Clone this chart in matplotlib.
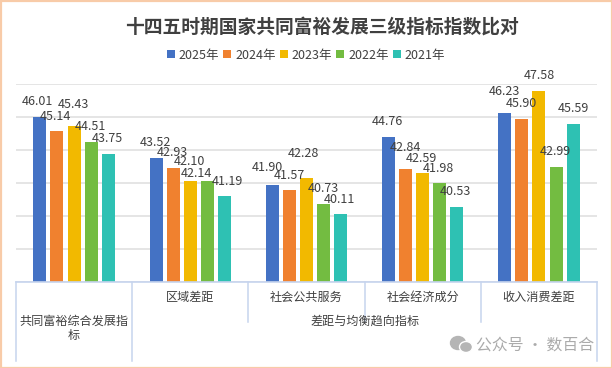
import matplotlib
matplotlib.use("Agg")
import matplotlib.pyplot as plt
from matplotlib.patches import Ellipse, Rectangle
from matplotlib.transforms import IdentityTransform

plt.rcParams['font.family'] = ['Noto Sans CJK SC', 'DejaVu Sans']

title = "十四五时期国家共同富裕发展三级指标指数比对"
categories = ["共同富裕综合发展指标", "区域差距", "社会公共服务", "社会经济成分", "收入消费差距"]
parent_label = "差距与均衡趋向指标"
years = ["2025年", "2024年", "2023年", "2022年", "2021年"]
v2025 = [46.01, 43.52, 41.90, 44.76, 46.23]
v2024 = [45.14, 42.93, 41.57, 42.84, 45.90]
v2023 = [45.43, 42.10, 42.28, 42.59, 47.58]
v2022 = [44.51, 42.14, 40.73, 41.98, 42.99]
v2021 = [43.75, 41.19, 40.11, 40.53, 45.59]
series = [v2025, v2024, v2023, v2022, v2021]
colors = ["#4472C4", "#F0812F", "#F2B900", "#73BC41", "#2EC1B3"]

# label offsets from the bar top, in pixels (per series, per category)
dx = [[-2, -1, -5, -1, 0], [-2, -1, 0, 0, 0], [-1, -1, -3, -1, 0], [-1, -11, 0, -1, -1], [-1, 3, -1, -1, 0]]
dy = [[15, 15, 17, 15.5, 22], [15, 15, 15, 22, 15], [22, 20, 25, 15, 15], [15, 7, 15, 15, 15], [16, 15, 15, 16, 15]]

W, H = 612, 368
fig = plt.figure(figsize=(W / 100, H / 100), dpi=100, facecolor="white")
L, R, T, B = 16, 597, 84, 282
ax = fig.add_axes([L / W, 1 - B / H, (R - L) / W, (B - T) / H])
ax.set_xlim(-0.5, 4.5)
ax.set_ylim(36, 48)
ax.set_yticks(range(36, 49, 2))
ax.set_xticks([])
ax.tick_params(left=False, labelleft=False)
for s in ax.spines.values():
    s.set_visible(False)
ax.grid(axis="y", color="#DEDEDE", lw=1.1, zorder=0)
ax.set_axisbelow(True)

bw, pitch = 13 / 116.2, 17.1 / 116.2
for j, (vals, c, yr) in enumerate(zip(series, colors, years)):
    xs = [i + (j - 2) * pitch for i in range(5)]
    ax.bar(xs, vals, width=bw, color=c, label=yr, zorder=2)
    for i, v in enumerate(vals):
        ax.annotate(f"{v:.2f}", (xs[i], v), xytext=(dx[j][i], dy[j][i]),
                    textcoords="offset pixels", ha="center", va="center",
                    fontsize=9, color="#404040", zorder=5)

# multi-level category axis
lc = "#C6D4EE"
tr = ax.get_xaxis_transform()
ax.plot([-0.5, 4.5], [0, 0], transform=tr, color=lc, lw=1.2, clip_on=False, zorder=3)
for x in [-0.5, 0.5, 4.5]:
    ax.plot([x, x], [0, -79 / 198], transform=tr, color=lc, lw=1.1, clip_on=False)
for x in [1.5, 2.5, 3.5]:
    ax.plot([x, x], [0, -40 / 198], transform=tr, color=lc, lw=1.1, clip_on=False)
axis_text = dict(transform=tr, ha="center", va="center", fontsize=8.7, color="#404040", clip_on=False)
ax.text(0, -39 / 198, categories[0][:9], **axis_text)
ax.text(0, -53 / 198, categories[0][9:], **axis_text)
for i in range(1, 5):
    ax.text(i, -15.5 / 198, categories[i], **axis_text)
ax.text(2.5, -39 / 198, parent_label, **axis_text)

fig.text(322 / W, 1 - 27 / H, title, ha="center", va="center", fontsize=13.5,
         fontweight="bold", color="#404040")

leg = ax.legend(loc="center", bbox_to_anchor=(306 / W, 1 - 55 / H), bbox_transform=fig.transFigure,
                ncol=5, frameon=False, fontsize=9, handlelength=0.64, handleheight=0.64,
                handletextpad=0.32, columnspacing=0.32, labelcolor="#404040",
                borderpad=0, borderaxespad=0)

# watermark
idt = IdentityTransform()
fig.add_artist(Ellipse((458, H - 343), 15, 13, color="#B5B5B5", transform=idt))
fig.add_artist(Ellipse((466, H - 347), 13, 11, color="#B5B5B5", ec="white", lw=1, transform=idt))
fig.text(535 / W, 1 - 345 / H, "公众号 · 数百合", ha="center", va="center",
         fontsize=11.4, color="#ABABAB")

# outer frame
fig.add_artist(Rectangle((0.5, 0.5), W - 1, H - 1, fill=False, ec="#F8CBA8", lw=1.6, transform=idt))

fig.savefig("out.png", dpi=100)
